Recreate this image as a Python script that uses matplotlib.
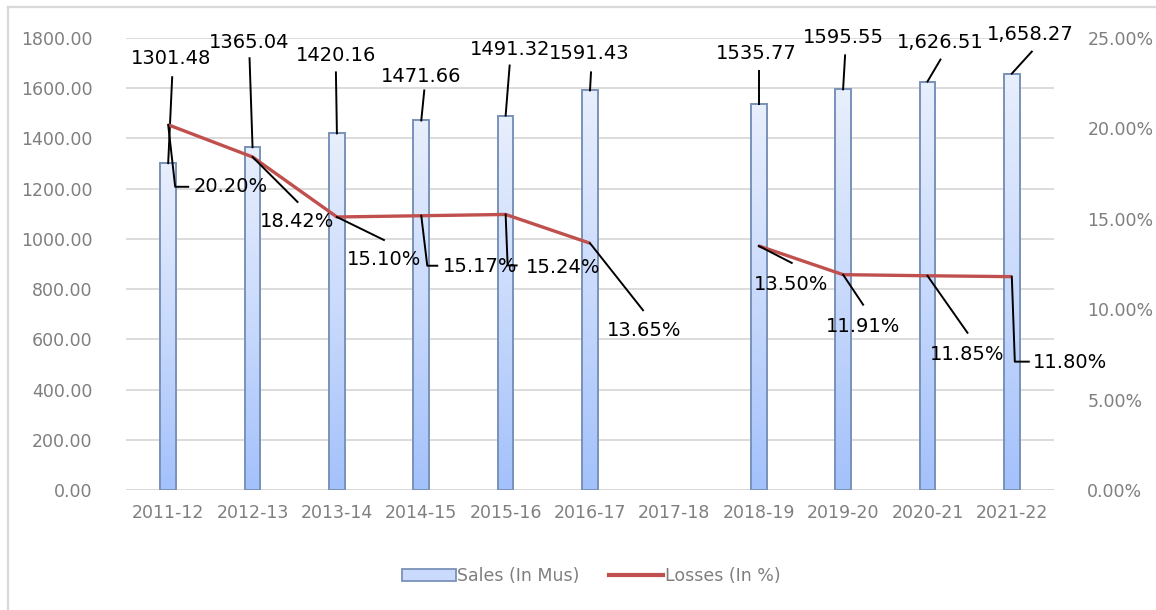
import numpy as np
import matplotlib
matplotlib.use("Agg")
import matplotlib.pyplot as plt
from matplotlib.colors import LinearSegmentedColormap
from matplotlib.patches import Patch
from matplotlib.lines import Line2D
from matplotlib.transforms import Affine2D, ScaledTranslation
from matplotlib.ticker import FuncFormatter, MultipleLocator

# ---------------- data ----------------
years = ["2011-12", "2012-13", "2013-14", "2014-15", "2015-16", "2016-17",
         "2017-18", "2018-19", "2019-20", "2020-21", "2021-22"]
sales = [1301.48, 1365.04, 1420.16, 1471.66, 1491.32, 1591.43,
         np.nan, 1535.77, 1595.55, 1626.51, 1658.27]
losses = [20.20, 18.42, 15.10, 15.17, 15.24, 13.65,
          np.nan, 13.50, 11.91, 11.85, 11.80]
sales_labels = ["1301.48", "1365.04", "1420.16", "1471.66", "1491.32", "1591.43",
                None, "1535.77", "1595.55", "1,626.51", "1,658.27"]
loss_labels = ["20.20%", "18.42%", "15.10%", "15.17%", "15.24%", "13.65%",
               None, "13.50%", "11.91%", "11.85%", "11.80%"]

# ---------------- layout (pixel offsets of labels / leader lines) ----------------
sales_text_off = [(3, 105), (-3, 105), (-1, 78), (0, 44), (4, 66), (-1, 37),
                  None, (-2, 51), (0, 52), (13, 39), (18, 39)]
sales_leader = [[(0, 0), (4, 86)], [(0, 0), (-3, 89)], [(0, 0), (-1, 61)],
                [(0, 0), (3, 30)], [(0, 0), (4, 50)], [(0, 0), (1, 18)],
                None, [(0, 0), (0, 33)], [(0, 0), (2, 34)],
                [(0, 0), (13, 22)], [(0, 0), (20, 22)]]
loss_text_off = [(63, -62), (45, -65), (47, -43), (59, -51), (57, -53), (54, -87),
                 None, (32, -39), (20, -52), (40, -79), (58, -86)]
loss_leader = [[(0, 0), (7, -62), (20, -62)], [(0, 0), (45, -45)],
               [(0, 0), (47, -23)], [(0, 0), (6, -50), (16, -50)],
               [(0, 0), (2, -51), (11, -51)], [(0, 0), (53, -67)],
               None, [(0, 0), (33, -17)], [(0, 0), (20, -30)],
               [(0, 0), (40, -57)], [(0, 0), (3, -85), (17, -85)]]

W, H = 1156, 610
fig = plt.figure(figsize=(W / 100, H / 100), dpi=100)
plt.rcParams["font.family"] = ["DejaVu Sans"]

ax = fig.add_axes([126 / W, (H - 490) / H, 928 / W, 452 / H])
ax2 = ax.twinx()

x = np.arange(len(years))
tick_color = "#7f7f7f"
grid_color = "#d9d9d9"

# bars with vertical gradient
bars = ax.bar(x, sales, width=0.185, facecolor="none", edgecolor="#7a92b8",
              linewidth=1.4, zorder=3)
cmap = LinearSegmentedColormap.from_list("g", ["#a3c1fb", "#c9dafc", "#e8effd"])
grad = np.linspace(0, 1, 256).reshape(-1, 1)
for b in bars:
    h = b.get_height()
    if not np.isfinite(h):
        continue
    im = ax.imshow(grad, cmap=cmap, origin="lower", aspect="auto",
                   extent=[b.get_x(), b.get_x() + b.get_width(), 0, h], zorder=2)
    im.set_clip_path(b)

ax.set_xlim(-0.5, len(years) - 0.5)
ax.set_ylim(0, 1800)
ax2.set_ylim(0, 25)

# losses line
ax2.plot(x, losses, color="#c0504d", linewidth=2.4, solid_capstyle="butt", zorder=4)

# axes styling
ax.yaxis.set_major_locator(MultipleLocator(200))
ax.yaxis.set_major_formatter(FuncFormatter(lambda v, p: f"{v:.2f}"))
ax2.yaxis.set_major_locator(MultipleLocator(5))
ax2.yaxis.set_major_formatter(FuncFormatter(lambda v, p: f"{v:.2f}%"))
ax.set_xticks(x)
ax.set_xticklabels(years)
for a in (ax, ax2):
    for s in a.spines.values():
        s.set_visible(False)
ax.tick_params(axis="y", length=0, pad=24, labelsize=12.5, labelcolor=tick_color)
ax.tick_params(axis="x", length=0, pad=10, labelsize=12.5, labelcolor=tick_color)
ax2.tick_params(axis="y", length=0, pad=24, labelsize=12.5, labelcolor=tick_color)
ax.set_axisbelow(True)
ax.yaxis.grid(True, color=grid_color, linewidth=1.3)
ax.xaxis.grid(False)
ax.axhline(0, color=grid_color, linewidth=1.3, zorder=1)


def point_trans(a, xv, yv):
    return Affine2D() + ScaledTranslation(xv, yv, a.transData)


# sales labels
for i in x:
    if sales_labels[i] is None:
        continue
    dx, dy = sales_text_off[i]
    ax.annotate(sales_labels[i], xy=(i, sales[i]), xytext=(dx, dy),
                textcoords="offset pixels", ha="center", va="center",
                fontsize=14, color="black", zorder=6, annotation_clip=False)
    pts = np.array(sales_leader[i], dtype=float)
    ax.add_line(Line2D(pts[:, 0], pts[:, 1], color="black", linewidth=1.4,
                       transform=point_trans(ax, i, sales[i]), zorder=5,
                       clip_on=False))

# losses labels
for i in x:
    if loss_labels[i] is None:
        continue
    dx, dy = loss_text_off[i]
    ax2.annotate(loss_labels[i], xy=(i, losses[i]), xytext=(dx, dy),
                 textcoords="offset pixels", ha="center", va="center",
                 fontsize=14, color="black", zorder=6, annotation_clip=False)
    pts = np.array(loss_leader[i], dtype=float)
    ax2.add_line(Line2D(pts[:, 0], pts[:, 1], color="black", linewidth=1.4,
                        transform=point_trans(ax2, i, losses[i]), zorder=5,
                        clip_on=False))

# legend
handles = [Patch(facecolor="#c9dafc", edgecolor="#7a92b8", linewidth=1.3),
           Line2D([0], [0], color="#c0504d", linewidth=3)]
leg = fig.legend(handles, ["Sales (In Mus)", "Losses (In %)"],
                 loc="center", bbox_to_anchor=(591 / W, 1 - 576 / H), ncol=2,
                 frameon=False, fontsize=12.5, handlelength=3.1, handleheight=0.7,
                 handletextpad=0.1, columnspacing=1.7)
for t in leg.get_texts():
    t.set_color(tick_color)

# chart area border (only top and left edges are visible in the crop)
fig.add_artist(Line2D([8 / W, 1.0], [1 - 7 / H, 1 - 7 / H], transform=fig.transFigure,
                      color="#d9d9d9", linewidth=1.6))
fig.add_artist(Line2D([8 / W, 8 / W], [0.0, 1 - 7 / H], transform=fig.transFigure,
                      color="#d9d9d9", linewidth=1.6))

fig.savefig("out.png", dpi=100)
